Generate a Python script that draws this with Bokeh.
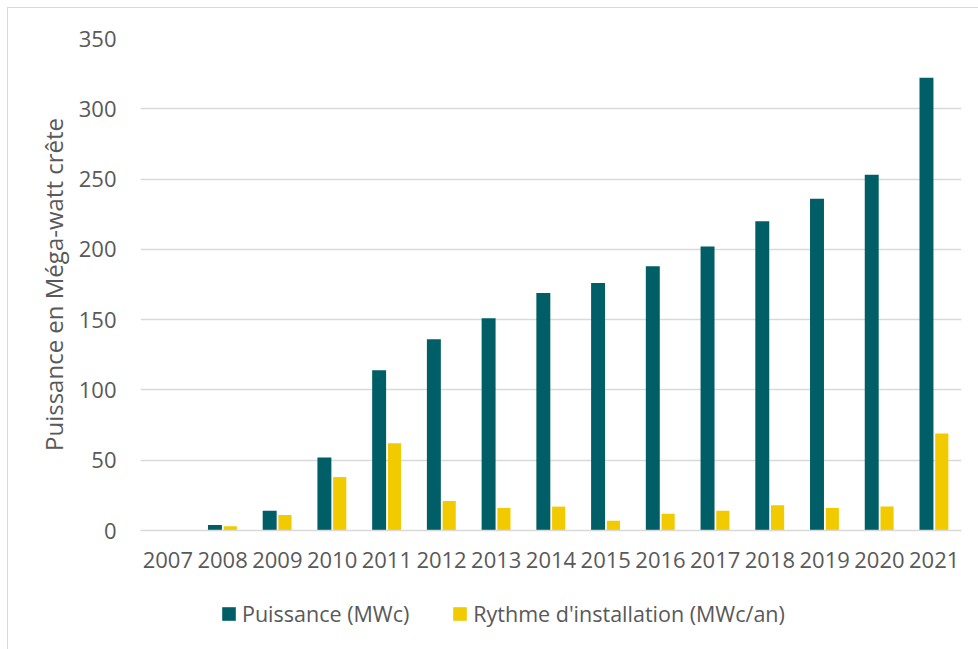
from bokeh.plotting import figure
from bokeh.layouts import column
from bokeh.models import ColumnDataSource, FactorRange, Range1d, Legend, LegendItem, SingleIntervalTicker
from bokeh.transform import dodge
from bokeh.embed import file_html
from bokeh.resources import INLINE

years = ["2007", "2008", "2009", "2010", "2011", "2012", "2013", "2014",
         "2015", "2016", "2017", "2018", "2019", "2020", "2021"]
puissance = [0, 4, 14, 52, 114, 136, 151, 169, 176, 188, 202, 220, 236, 253, 322]
rythme = [0, 3, 11, 38, 62, 21, 16, 17, 7, 12, 14, 18, 16, 17, 69]

series_names = ["Puissance (MWc)", "Rythme d'installation (MWc/an)"]
y_title = "Puissance en Méga-watt crête"

TEAL = "#005F66"
YELLOW = "#F2CA00"
TXT = "#595959"
GRID = "#D9D9D9"
FONT = "Open Sans"

src = ColumnDataSource(dict(year=years, puissance=puissance, rythme=rythme))

p = figure(width=978, height=590, x_range=FactorRange(factors=years, range_padding=0),
           y_range=Range1d(0, 350), output_backend="svg", toolbar_location=None,
           min_border_left=140, min_border_right=17, min_border_top=38, min_border_bottom=60)
p.border_fill_alpha = 0
p.styles = {"box-shadow": "inset 7px 7px 0 #FFFFFF, inset 8px 8px 0 #D9D9D9"}

r1 = p.vbar(x=dodge("year", -0.14, range=p.x_range), top="puissance", width=0.255,
            source=src, fill_color=TEAL, line_color=None)
r2 = p.vbar(x=dodge("year", 0.14, range=p.x_range), top="rythme", width=0.24,
            source=src, fill_color=YELLOW, line_color=None)

p.outline_line_color = None
p.xgrid.grid_line_color = None
p.ygrid.grid_line_color = GRID
p.ygrid.grid_line_width = 1.3

p.yaxis.ticker = SingleIntervalTicker(interval=50)
p.yaxis.axis_line_color = None
p.yaxis.major_tick_line_color = None
p.yaxis.minor_tick_line_color = None
p.yaxis.major_tick_out = 0
p.yaxis.major_label_standoff = 20
p.yaxis.major_label_text_font = FONT
p.yaxis.major_label_text_font_size = "22px"
p.yaxis.major_label_text_color = TXT
p.yaxis.axis_label = y_title
p.yaxis.axis_label_text_font = FONT
p.yaxis.axis_label_text_font_size = "24px"
p.yaxis.axis_label_text_font_style = "normal"
p.yaxis.axis_label_text_color = TXT
p.yaxis.axis_label_standoff = 6

p.xaxis.axis_line_color = GRID
p.xaxis.axis_line_width = 1.5
p.xaxis.major_tick_line_color = None
p.xaxis.minor_tick_line_color = None
p.xaxis.major_tick_out = 0
p.xaxis.major_label_standoff = 21
p.xaxis.major_label_text_font = FONT
p.xaxis.major_label_text_font_size = "22px"
p.xaxis.major_label_text_color = TXT

# legend strip below the chart (its proxy renderers are hidden)
lg = figure(width=978, height=59, output_backend="svg", toolbar_location=None,
            x_range=FactorRange(factors=years), y_range=Range1d(-2, -1),
            min_border=0, x_axis_location=None, y_axis_location=None)
lg.border_fill_alpha = 0
lg.background_fill_alpha = 0
lg.outline_line_color = None
lg.grid.visible = False
lg.styles = {"box-shadow": "inset 7px 0 0 #FFFFFF, inset 8px 0 0 #D9D9D9"}
l1 = lg.vbar(x="year", top="puissance", width=0.2, source=src, fill_color=TEAL, line_color=None)
l2 = lg.vbar(x="year", top="rythme", width=0.2, source=src, fill_color=YELLOW, line_color=None)
l1.visible = False
l2.visible = False

legend = Legend(items=[LegendItem(label=series_names[0], renderers=[l1]),
                       LegendItem(label=series_names[1], renderers=[l2])],
                orientation="horizontal", location=(80, 21),
                label_text_font=FONT, label_text_font_size="21.5px", label_text_color=TXT,
                glyph_width=17, glyph_height=17, label_standoff=5, spacing=42,
                border_line_color=None, background_fill_alpha=0, margin=0, padding=0)
lg.add_layout(legend, "center")

layout = column(p, lg, spacing=0)
open("out.html", "w").write(file_html(layout, INLINE))
